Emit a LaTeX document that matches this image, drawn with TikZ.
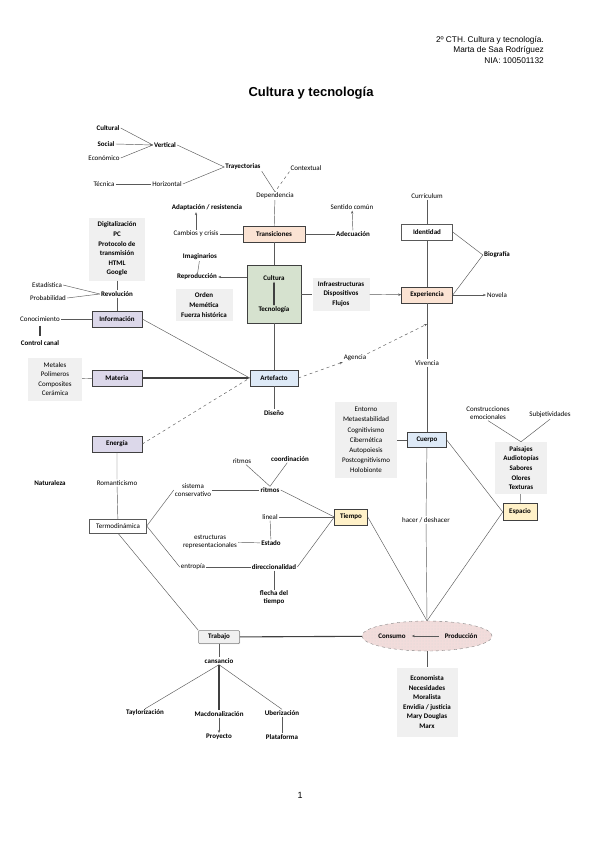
\documentclass[tikz,border=0pt]{standalone}
\usepackage{fontspec}
\setmainfont{Carlito}
\newfontfamily\headfont{Liberation Sans}
\usepackage{tikz}
\usetikzlibrary{arrows.meta, positioning, shapes.geometric, shadows, patterns}
\usepackage{xcolor}
\definecolor{DarkGrey}{HTML}{404040}
\definecolor{LineGrey}{HTML}{595959}
\definecolor{LightGrey}{HTML}{F0F0F0}
\definecolor{Peach}{HTML}{FBE3D3}
\definecolor{Sage}{HTML}{D6E2CF}
\definecolor{Lilac}{HTML}{DCD8EA}
\definecolor{IceBlue}{HTML}{DEEAF7}
\definecolor{Cream}{HTML}{FFF1C8}
\definecolor{Rose}{HTML}{F2DCDB}
\newcommand{\mapfont}{\fontsize{7}{8}\selectfont}
\newcommand{\listfont}{\fontsize{7}{9.6}\selectfont}
\tikzset{
  % plain concept label
  lbl/.style={font=\mapfont\bfseries, inner sep=1pt, align=center},
  % lighter concept label
  thinlbl/.style={font=\mapfont, inner sep=1pt, align=center},
  % framed concept
  box/.style={
    rectangle, draw=DarkGrey, line width=0.5pt,
    minimum height=16pt, minimum width=50pt, inner sep=1pt,
    font=\mapfont\bfseries,
    drop shadow={shadow xshift=0.7pt, shadow yshift=-0.7pt, opacity=0.35}
  },
  peachbox/.style={box, fill=Peach},
  sagebox/.style={box, fill=Sage},
  lilacbox/.style={box, fill=Lilac},
  icebox/.style={box, fill=IceBlue},
  creambox/.style={box, fill=Cream},
  whitebox/.style={box, fill=white, draw=LineGrey},
  % grey list of terms
  listbox/.style={
    rectangle, fill=LightGrey, inner sep=2pt,
    font=\listfont\bfseries, align=center
  },
  % connectors
  link/.style={draw=LineGrey, line width=0.45pt},
  thicklink/.style={draw=DarkGrey, line width=1.1pt},
  dlink/.style={link, dashed},
  arrow/.style={link, -{Stealth[length=3pt, width=2.4pt]}}
}

\begin{document}
\begin{tikzpicture}[x=1pt, y=-1pt]
\useasboundingbox (0,0) rectangle (599,848);

% header and title
\node[anchor=north east, align=right, inner sep=0pt,
      font=\headfont\fontsize{8.3}{10.5}\selectfont] (hdr) at (544,36)
  {2º CTH. Cultura y tecnología.\\Marta de Saa Rodríguez\\NIA: 100501132};
\node[font=\headfont\fontsize{13}{15}\selectfont\bfseries] (title) at (311,93)
  {Cultura y tecnología};
\node[font=\headfont\fontsize{9}{11}\selectfont] (pagenum) at (300,795) {1};

% ── trayectorias ─────────────────────────────
\node[lbl] (cultural) at (108,128) {Cultural};
\node[lbl] (social) at (106,144) {Social};
\node[thinlbl] (economico) at (104,158) {Económico};
\node[lbl] (vertical) at (165,145) {Vertical};
\node[thinlbl] (tecnica) at (104,184) {Técnica};
\node[thinlbl] (horizontal) at (167,184) {Horizontal};
\node[lbl] (trayect) at (243,167) {Trayectorias};
\node[thinlbl] (contextual) at (306,168) {Contextual};
\node[thinlbl] (dependencia) at (275,196) {Dependencia};

% ── transiciones ─────────────────────────────
\node[lbl] (adaptacion) at (207,208) {Adaptación / resistencia};
\node[thinlbl] (cambios) at (196,234) {Cambios y crisis};
\node[peachbox, minimum width=62pt] (transiciones) at (274,234) {Transiciones};
\node[lbl] (adecuacion) at (353,234) {Adecuación};
\node[thinlbl] (sentido) at (352,207) {Sentido común};

% ── experiencia ──────────────────────────────
\node[thinlbl] (curriculum) at (427,196) {Currículum};
\node[whitebox, minimum width=51pt] (identidad) at (427,232) {Identidad};
\node[lbl] (biografia) at (497,255) {Biografía};
\node[peachbox, minimum width=51pt] (experiencia) at (427,295) {Experiencia};
\node[thinlbl] (novela) at (497,295) {Novela};
\node[listbox, minimum width=57pt, minimum height=33pt] (infra) at (341,294)
  {Infraestructuras\\Dispositivos\\Flujos};

% ── cultura y tecnología ─────────────────────
\node[sagebox, minimum width=54pt, minimum height=58pt] (cultec) at (274,294) {};
\node[lbl] (cultura) at (274,278) {Cultura};
\node[lbl] (tecnologia) at (274,310) {Tecnología};
\node[lbl] (imaginarios) at (200,257) {Imaginarios};
\node[lbl] (reproduccion) at (197,277) {Reproducción};
\node[listbox, minimum width=57pt, minimum height=32pt] (orden) at (204,305)
  {Orden\\Memética\\Fuerza histórica};

% ── información / materia / energía ──────────
\node[listbox, minimum width=56pt, minimum height=63pt] (digital) at (117,249)
  {Digitalización\\PC\\Protocolo de\\transmisión\\HTML\\Google};
\node[thinlbl] (estadistica) at (47,285) {Estadística};
\node[thinlbl] (probabilidad) at (48,298) {Probabilidad};
\node[lbl] (revolucion) at (117,294) {Revolución};
\node[lilacbox] (informacion) at (117,319) {Información};
\node[thinlbl] (conocimiento) at (40,319) {Conocimiento};
\node[lbl] (control) at (40,343) {Control canal};
\node[listbox, font=\listfont, minimum width=54pt, minimum height=43pt] (metales) at (55,379)
  {Metales\\Polímeros\\Composites\\Cerámica};
\node[lilacbox] (materia) at (117,378) {Materia};
\node[icebox, minimum width=48pt] (artefacto) at (274,378) {Artefacto};
\node[lbl] (diseno) at (274,413) {Diseño};
\node[thinlbl] (agencia) at (355,358) {Agencia};
\node[thinlbl] (vivencia) at (427,363) {Vivencia};
\node[lilacbox] (energia) at (117,444) {Energía};
\node[lbl] (naturaleza) at (50,483) {Naturaleza};
\node[thinlbl] (romanticismo) at (117,483) {Romanticismo};
\node[whitebox, minimum width=57pt, minimum height=14pt, font=\mapfont] (termo) at (118,526) {Termodinámica};

% ── tiempo ───────────────────────────────────
\node[thinlbl] (rtmos) at (242,461) {ritmos};
\node[lbl] (coordinacion) at (290,459) {coordinación};
\node[thinlbl] (sistema) at (193,490) {sistema\\conservativo};
\node[lbl] (ritmos) at (270,490) {ritmos};
\node[thinlbl] (lineal) at (270,517) {lineal};
\node[lbl] (estado) at (271,543) {Estado};
\node[thinlbl] (estructuras) at (210,542) {estructuras\\representacionales};
\node[thinlbl] (entropia) at (193,567) {entropía};
\node[lbl] (direccional) at (274,567) {direccionalidad};
\node[lbl] (flecha) at (274,598) {flecha del\\tiempo};
\node[creambox, minimum width=33pt] (tiempo) at (351,517) {Tiempo};

% ── cuerpo / espacio ─────────────────────────
\node[icebox, minimum width=39pt, minimum height=15pt] (cuerpo) at (427,440) {Cuerpo};
\node[listbox, font=\fontsize{7}{10.2}\selectfont, minimum width=62pt, minimum height=76pt] (entorno) at (366,440)
  {Entorno\\Metaestabilidad\\Cognitivismo\\Cibernética\\Autopoiesis\\Postcognitivismo\\Holobionte};
\node[thinlbl] (construcciones) at (488,413) {Construcciones\\emocionales};
\node[thinlbl] (subjetividades) at (550,415) {Subjetividades};
\node[listbox, minimum width=52pt, minimum height=52pt] (paisajes) at (521,468)
  {Paisajes\\Audiotopías\\Sabores\\Olores\\Texturas};
\node[creambox, minimum width=34pt, minimum height=17pt] (espacio) at (520,512) {Espacio};
\node[thinlbl, fill=white] (hacer) at (426,520) {hacer / deshacer};

% ── consumo / producción ─────────────────────
\node[ellipse, draw=gray, dashed, fill=Rose, minimum width=130pt,
      minimum height=30pt,
      postaction={pattern=dots, pattern color=gray!30}] (cp) at (427,636) {};
\node[lbl] (consumo) at (392,636) {Consumo};
\node[lbl] (produccion) at (461,636) {Producción};
\node[listbox, minimum width=61pt, minimum height=69pt] (economista) at (427,702)
  {Economista\\Necesidades\\Moralista\\Envidia / justicia\\Mary Douglas\\Marx};

% ── trabajo ──────────────────────────────────
\node[box, fill=LightGrey, draw=gray, rounded corners=1pt, minimum width=41pt,
      minimum height=13pt] (trabajo) at (219,637) {Trabajo};
\node[lbl] (cansancio) at (219,661) {cansancio};
\node[lbl] (taylor) at (145,713) {Taylorización};
\node[lbl] (macdo) at (219,714) {Macdonalización};
\node[lbl] (uber) at (282,713) {Uberización};
\node[lbl] (proyecto) at (219,737) {Proyecto};
\node[lbl] (plataforma) at (282,737) {Plataforma};

\coordinate (vivtop) at (427,324);

% connectors
\draw[link]  (cultural.east)  -- (vertical.west);
\draw[arrow] (social.east)    -- (vertical.west);
\draw[link]  (economico.east) -- (vertical.west);
\draw[link]  (tecnica)        -- (horizontal);
\draw[link]  (vertical.east)  -- (trayect.west);
\draw[link]  (horizontal.east) -- (trayect.west);
\draw[link]  (trayect.south east) -- (dependencia.north);
\draw[dlink] (contextual.south west) -- (dependencia.north);
\draw[link]  (dependencia) -- (transiciones);
\draw[link]  (cambios) -- (transiciones);
\draw[arrow] (cambios.north) -- (cambios.north |- adaptacion.south);
\draw[link]  (transiciones) -- (adecuacion);
\draw[arrow] (adecuacion) -- (sentido);
\draw[link]  (transiciones) -- (cultec);
\draw[link]  (curriculum) -- (identidad);
\draw[link]  (identidad) -- (experiencia);
\draw[link]  (identidad.east) -- (biografia.west);
\draw[link]  (experiencia.east) -- (biografia.west);
\draw[arrow] (experiencia) -- (novela);
\draw[link]  (cultec) -- (infra);
\draw[arrow] (infra) -- (experiencia);
\draw[thicklink, {Stealth[length=2pt]}-{Stealth[length=2pt]}] (cultura) -- (tecnologia);
\draw[arrow] (cultec.west |- reproduccion) -- (reproduccion);
\draw[link]  (imaginarios) -- (reproduccion);
\draw[link]  (digital) -- (revolucion);
\draw[link]  (estadistica.east)  -- (revolucion.west);
\draw[link]  (probabilidad.east) -- (revolucion.west);
\draw[link]  (revolucion) -- (informacion);
\draw[link]  (conocimiento) -- (informacion);
\draw[thicklink, shorten <=3pt, shorten >=3pt] (conocimiento) -- (control);
\draw[link]  (metales) -- (materia);
\draw[link]  (informacion.east) -- (artefacto.west);
\draw[thicklink, -{Stealth[length=3.5pt]}] (materia) -- (artefacto);
\draw[dlink] (energia.east) -- (artefacto.west);
\draw[link]  (cultec) -- (artefacto);
\draw[link]  (artefacto) -- (diseno);
\draw[arrow, dashed] (artefacto.east) -- (agencia.south west);
\draw[arrow, dashed] (agencia.north east) -- (vivtop);
\draw[link]  (experiencia) -- (vivencia);
\draw[link]  (vivencia) -- (cuerpo);
\draw[link]  (entorno) -- (cuerpo);
\draw[link]  (cuerpo.east) -- (espacio.west);
\draw[link]  (construcciones.south) -- (paisajes.north);
\draw[link]  (subjetividades.south) -- (paisajes.north);
\draw[link]  (paisajes) -- (espacio);
\draw[link]  (cuerpo) -- (hacer) -- (cp.north);
\draw[link]  (tiempo.east) -- (cp.north);
\draw[link]  (espacio.west) -- (cp.north);
\draw[link]  (energia) -- (romanticismo) -- (termo);
\draw[link]  (termo.east) -- (sistema.west);
\draw[link]  (termo.east) -- (entropia.west);
\draw[link]  (sistema) -- (ritmos);
\draw[link]  (rtmos) -- (ritmos.north);
\draw[link]  (coordinacion) -- (ritmos.north);
\draw[link]  (ritmos.east) -- (tiempo.west);
\draw[link]  (lineal) -- (tiempo);
\draw[link]  (direccional.east) -- (tiempo.west);
\draw[link]  (lineal) -- (estado);
\draw[link]  (estructuras) -- (estado);
\draw[link]  (entropia) -- (direccional);
\draw[link]  (direccional) -- (flecha);
\draw[link]  (termo.south) -- (trabajo.north west);
\draw[thicklink] (trabajo) -- (cp);
\draw[link]  (trabajo) -- (cansancio);
\draw[link]  (cansancio.south) -- (taylor.north);
\draw[thicklink] (cansancio.south) -- (macdo.north);
\draw[link]  (cansancio.south) -- (uber.north);
\draw[arrow] (macdo) -- (proyecto);
\draw[link]  (uber) -- (plataforma);
\draw[arrow, shorten <=5pt, shorten >=5pt] (produccion) -- (consumo);
\draw[link]  (cp) -- (economista);

\end{tikzpicture}
\end{document}
